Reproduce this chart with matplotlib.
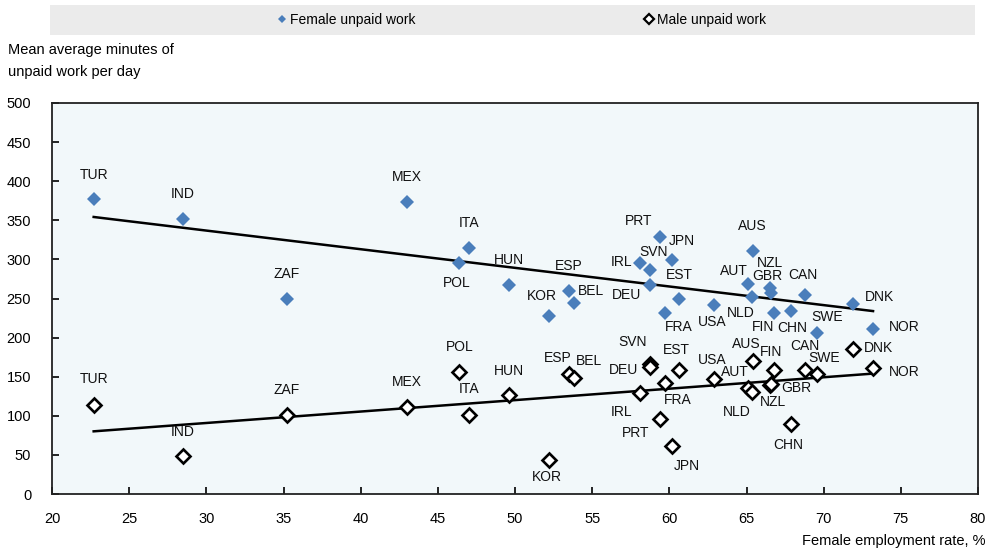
import matplotlib
matplotlib.use("Agg")
import matplotlib.pyplot as plt
import numpy as np
from matplotlib.lines import Line2D
from matplotlib.patches import Rectangle

plt.rcParams["font.family"] = ["Liberation Sans", "DejaVu Sans"]

NARROW = ["Liberation Sans Narrow", "Liberation Sans", "DejaVu Sans"]

# female employment rate, %
countries = ["TUR", "IND", "ZAF", "MEX", "ITA", "POL", "HUN", "ESP", "BEL", "KOR",
             "IRL", "SVN", "DEU", "PRT", "JPN", "EST", "FRA", "USA", "AUS", "AUT",
             "NLD", "NZL", "GBR", "FIN", "CHN", "CAN", "SWE", "DNK", "NOR"]
employment = [22.7, 28.5, 35.2, 43.0, 47.05, 46.4, 49.6, 53.5, 53.8, 52.2,
              58.1, 58.76, 58.76, 59.4, 60.2, 60.65, 59.7, 62.9, 65.4, 65.1,
              65.35, 66.5, 66.6, 66.8, 67.9, 68.8, 69.6, 71.9, 73.2]
female_unpaid = [377, 352, 249, 374, 315, 296, 267, 259, 244, 227,
                 296, 286, 267, 329, 299, 249, 232, 242, 311, 269,
                 252, 263, 257, 232, 234, 254, 206, 243, 211]
male_unpaid = [114, 49, 101, 111, 101, 156, 126, 153, 148, 43,
               129, 166, 163, 96, 61, 158, 142, 147, 170, 135,
               131, 139, 141, 158, 89, 159, 153, 185, 161]

# label offsets in pixels (dx, dy, ha)
female_offsets = {
    "TUR": (0, 24, "center"), "IND": (0, 25, "center"), "ZAF": (0, 25, "center"),
    "MEX": (0, 25, "center"), "ITA": (0, 25, "center"), "POL": (-3, -20, "center"),
    "HUN": (0, 25, "center"), "ESP": (0, 25, "center"), "BEL": (4, 12, "left"),
    "KOR": (-7, 20, "center"), "IRL": (-8, 1, "right"), "SVN": (3, 18, "center"),
    "DEU": (-9, -10, "right"), "PRT": (-21, 16, "center"), "JPN": (-4, 19, "left"),
    "EST": (0, 24, "center"), "FRA": (14, -14, "center"), "USA": (-2, -17, "center"),
    "AUS": (0, 25, "center"), "AUT": (-14, 13, "center"), "NLD": (-11, -16, "center"),
    "NZL": (0, 25, "center"), "GBR": (-4, 17, "center"), "FIN": (-11, -14, "center"),
    "CHN": (1, -17, "center"), "CAN": (-2, 20, "center"), "SWE": (10, 16, "center"),
    "DNK": (12, 7, "left"), "NOR": (16, 2, "left"),
}
male_offsets = {
    "TUR": (0, 26, "center"), "IND": (0, 24, "center"), "ZAF": (0, 25, "center"),
    "MEX": (0, 25, "center"), "ITA": (0, 26, "center"), "POL": (0, 25, "center"),
    "HUN": (0, 24, "center"), "ESP": (-11, 16, "center"), "BEL": (15, 17, "center"),
    "KOR": (-2, -17, "center"), "IRL": (-18, -19, "center"), "SVN": (-18, 22, "center"),
    "DEU": (-12, -3, "right"), "PRT": (-24, -14, "center"), "JPN": (14, -20, "center"),
    "EST": (-3, 20, "center"), "FRA": (13, -17, "center"), "USA": (-2, 19, "center"),
    "AUS": (-6, 17, "center"), "AUT": (-13, 16, "center"), "NLD": (-15, -20, "center"),
    "FIN": (-3, 18, "center"), "NZL": (3, -17, "center"), "GBR": (10, -4, "left"),
    "CHN": (-3, -21, "center"), "CAN": (0, 24, "center"), "SWE": (7, 16, "center"),
    "DNK": (11, 1, "left"), "NOR": (16, -4, "left"),
}

BLUE = "#4a7ebb"

fig = plt.figure(figsize=(9.88, 5.48), dpi=100)
ax = fig.add_axes([52 / 988, 54 / 548, 926 / 988, 391 / 548])
ax.set_facecolor("#f2f8fa")

x = np.array(employment)
yf = np.array(female_unpaid)
ym = np.array(male_unpaid)

# trend lines
xs = np.array([x.min(), x.max()])
for y in (yf, ym):
    slope, intercept = np.polyfit(x, y, 1)
    ax.plot(xs, slope * xs + intercept, color="black", lw=1.8, zorder=2)

ax.plot(x, yf, "D", color=BLUE, markersize=7.3, markeredgewidth=0, zorder=3)
ax.plot(x, ym, "D", color="black", markerfacecolor="white", markersize=7.5,
        markeredgewidth=1.9, zorder=3)

for name, xi, yi in zip(countries, x, yf):
    dx, dy, ha = female_offsets[name]
    ax.annotate(name, (xi, yi), xytext=(dx, dy), textcoords="offset pixels",
                ha=ha, va="center", fontsize=10, color="#111111", zorder=4)
for name, xi, yi in zip(countries, x, ym):
    dx, dy, ha = male_offsets[name]
    ax.annotate(name, (xi, yi), xytext=(dx, dy), textcoords="offset pixels",
                ha=ha, va="center", fontsize=10, color="#111111", zorder=4)

ax.set_xlim(20, 80)
ax.set_ylim(0, 500)
ax.set_xticks(np.arange(20, 81, 5))
ax.set_yticks(np.arange(0, 501, 50))
ax.tick_params(direction="in", length=5, width=1.2, labelsize=10.5)
ax.tick_params(axis="x", pad=13)
ax.tick_params(axis="y", pad=15)
for lab in ax.get_xticklabels() + ax.get_yticklabels():
    lab.set_family(NARROW)
for sp in ax.spines.values():
    sp.set_linewidth(1.3)
    sp.set_color("#222222")

fig.text(8 / 988, 1 - 61 / 548, "Mean average minutes of\nunpaid work per day",
         ha="left", va="center", fontsize=10.5, family=NARROW, linespacing=1.7)
fig.text(985 / 988, 1 - 541 / 548, "Female employment rate, %",
         ha="right", va="center", fontsize=10.5, family=NARROW)

# legend band
fig.add_artist(Rectangle((50 / 988, 1 - 35 / 548), 925 / 988, 30 / 548,
                         transform=fig.transFigure, facecolor="#ebebeb",
                         edgecolor="none", zorder=0))
handles = [
    Line2D([], [], ls="none", marker="D", color=BLUE, markersize=4.5, markeredgewidth=0),
    Line2D([], [], ls="none", marker="D", color="black", markerfacecolor="white",
           markersize=5, markeredgewidth=1.6),
]
fig.legend(handles, ["Female unpaid work", "Male unpaid work"], ncol=2,
           loc="center", bbox_to_anchor=(522 / 988, 1 - 20 / 548), frameon=False,
           prop={"family": NARROW, "size": 10}, handlelength=0.6, handletextpad=0.3,
           columnspacing=16.5)

fig.savefig("out.png", dpi=100)
